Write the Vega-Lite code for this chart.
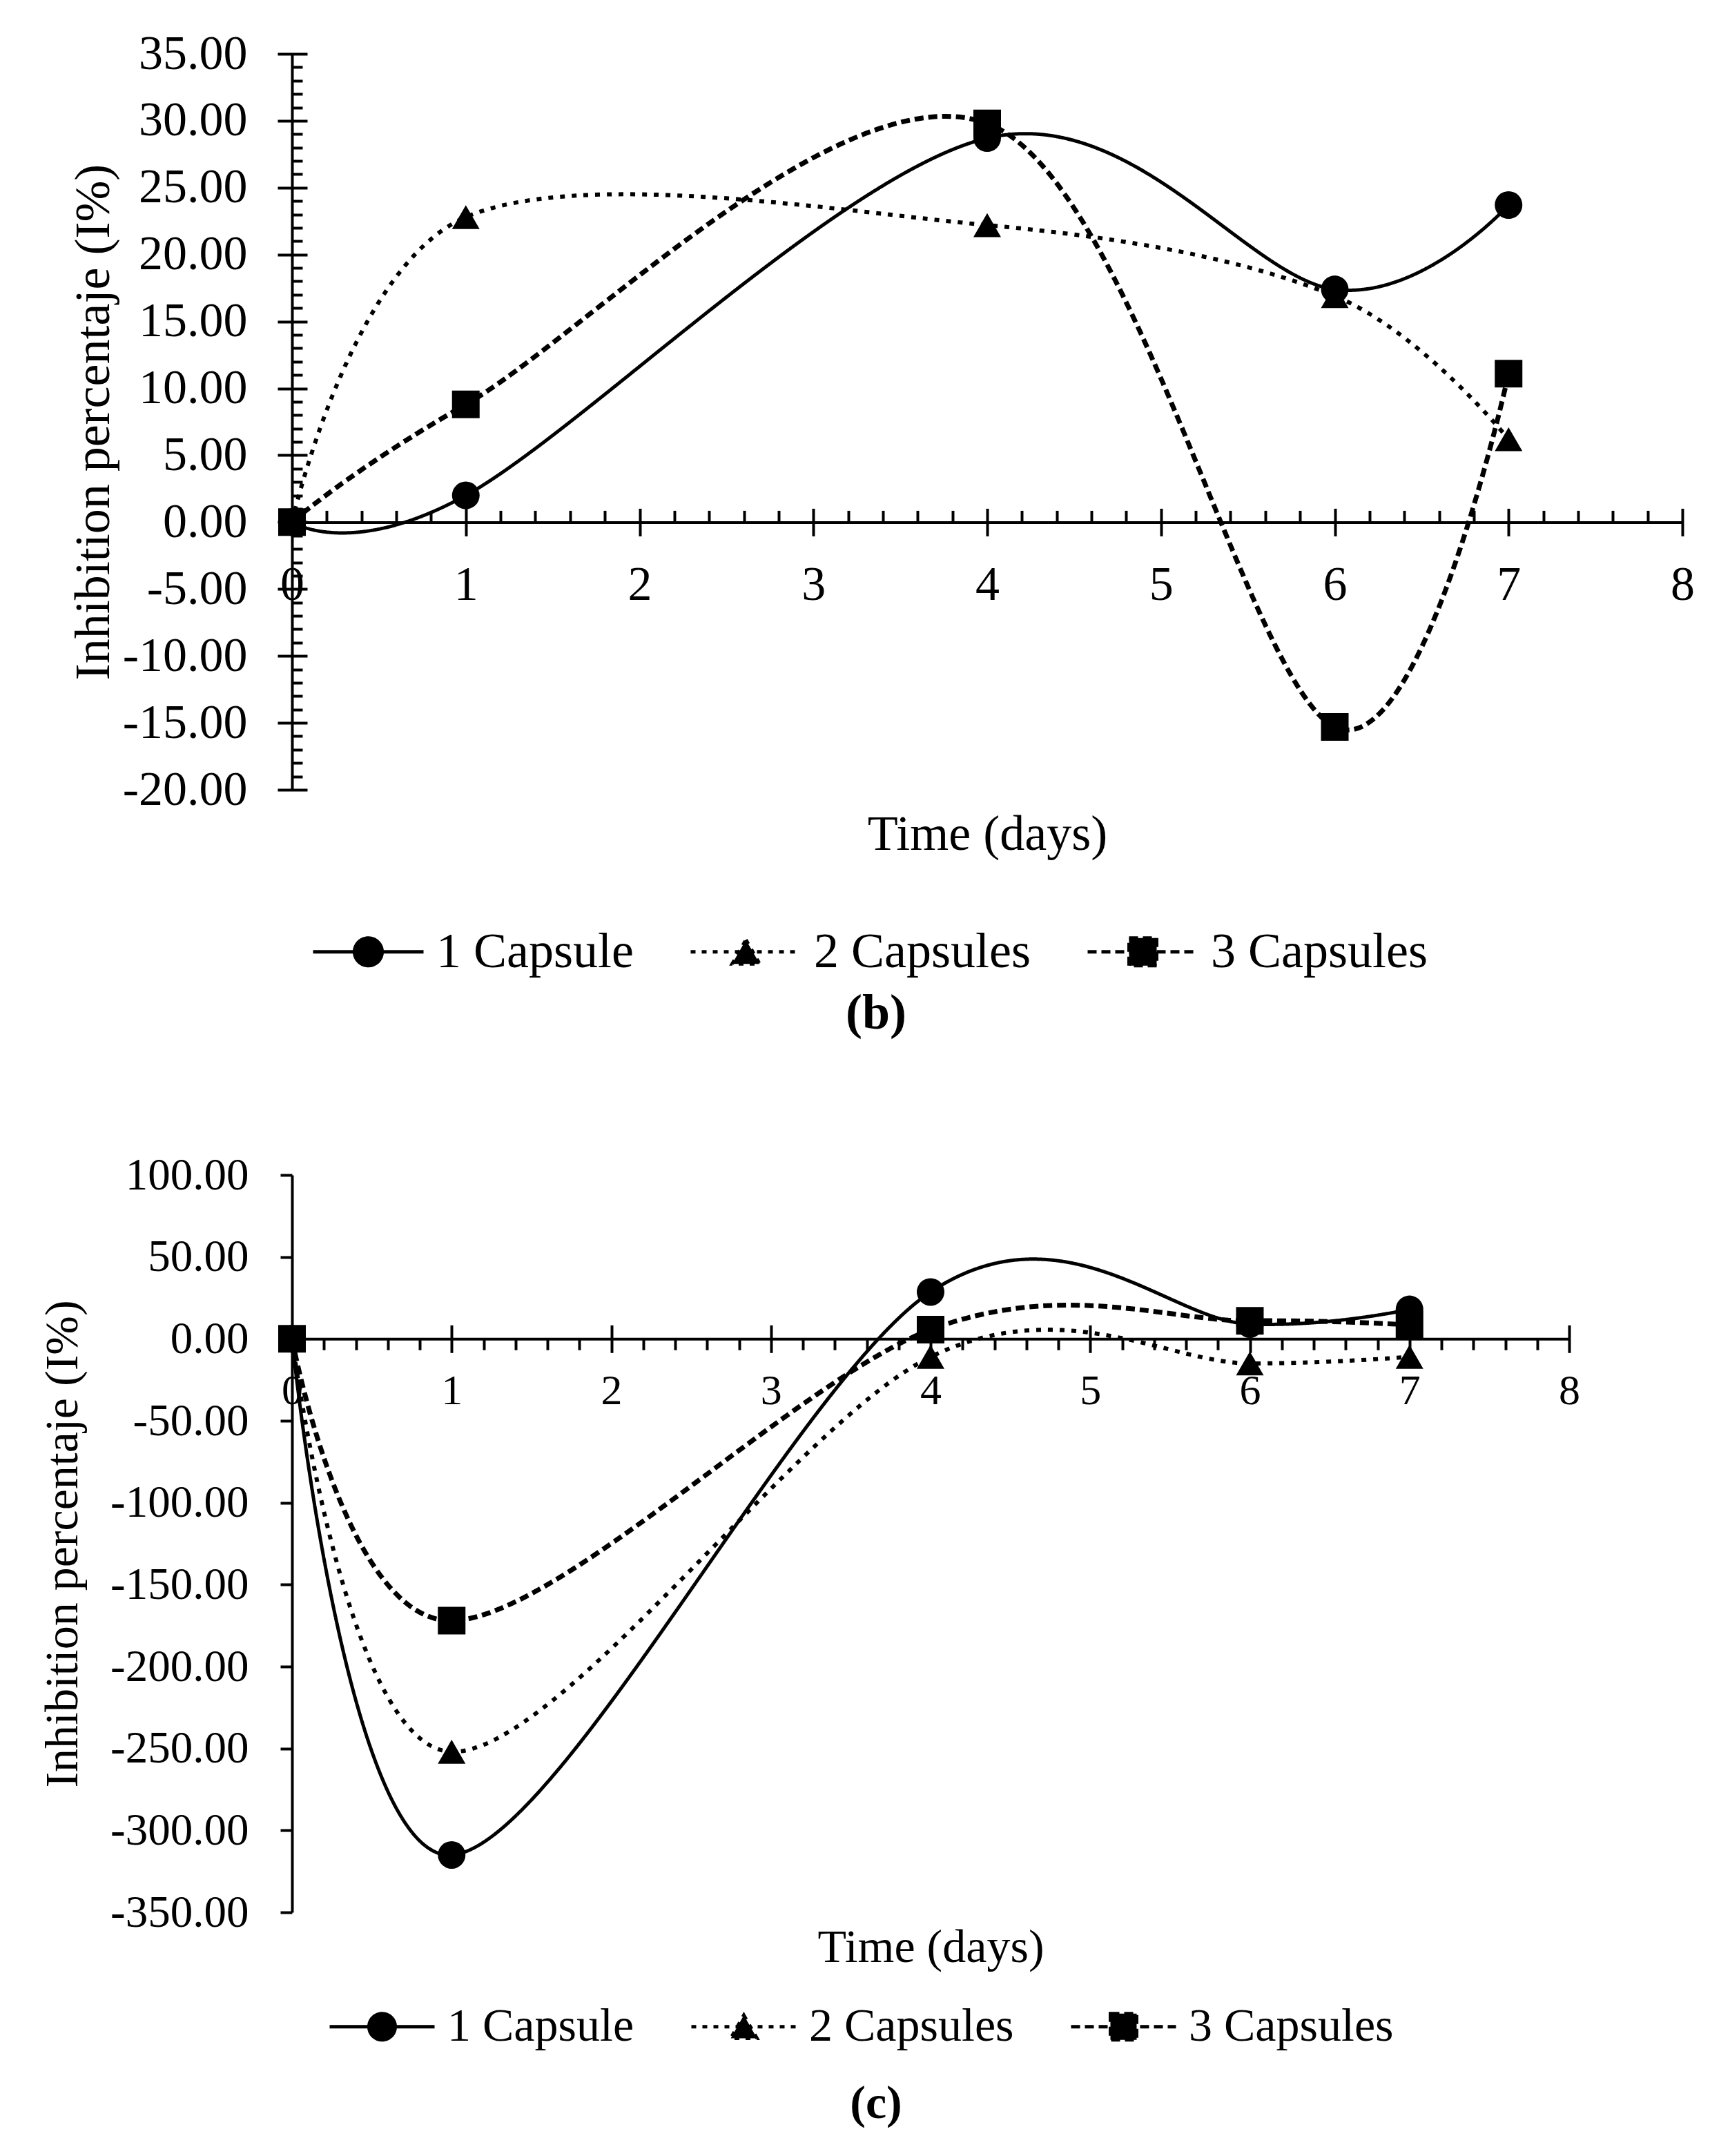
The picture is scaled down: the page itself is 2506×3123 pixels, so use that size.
{
  "$schema": "https://vega.github.io/schema/vega-lite/v6.json",
  "background": "white",
  "padding": {"left": 56, "top": 43, "right": 20, "bottom": 10},
  "config": {
    "font": "Liberation Serif",
    "view": {"stroke": null},
    "axis": {
      "grid": false,
      "domainColor": "black",
      "domainWidth": 4,
      "tickColor": "black",
      "tickWidth": 4,
      "labelColor": "black",
      "titleColor": "black",
      "labelFont": "Liberation Serif",
      "titleFont": "Liberation Serif",
      "titleFontWeight": "normal",
      "labelFlush": false,
      "labelOverlap": false,
      "labelBound": false,
      "labelLimit": 0
    },
    "legend": {"labelFont": "Liberation Serif", "labelColor": "black"}
  },
  "datasets": {
    "b": [
      {"day": 0, "value": 0, "series": "1 Capsule"},
      {"day": 1, "value": 2.0, "series": "1 Capsule"},
      {"day": 4, "value": 28.7, "series": "1 Capsule"},
      {"day": 6, "value": 17.4, "series": "1 Capsule"},
      {"day": 7, "value": 23.7, "series": "1 Capsule"},
      {"day": 0, "value": 0, "series": "2 Capsules"},
      {"day": 1, "value": 22.8, "series": "2 Capsules"},
      {"day": 4, "value": 22.2, "series": "2 Capsules"},
      {"day": 6, "value": 16.9, "series": "2 Capsules"},
      {"day": 7, "value": 6.2, "series": "2 Capsules"},
      {"day": 0, "value": 0, "series": "3 Capsules"},
      {"day": 1, "value": 8.8, "series": "3 Capsules"},
      {"day": 4, "value": 29.8, "series": "3 Capsules"},
      {"day": 6, "value": -15.3, "series": "3 Capsules"},
      {"day": 7, "value": 11.1, "series": "3 Capsules"}
    ],
    "c": [
      {"day": 0, "value": 0, "series": "1 Capsule"},
      {"day": 1, "value": -315, "series": "1 Capsule"},
      {"day": 4, "value": 28.6, "series": "1 Capsule"},
      {"day": 6, "value": 9, "series": "1 Capsule"},
      {"day": 7, "value": 18, "series": "1 Capsule"},
      {"day": 0, "value": 0, "series": "2 Capsules"},
      {"day": 1, "value": -252, "series": "2 Capsules"},
      {"day": 4, "value": -11, "series": "2 Capsules"},
      {"day": 6, "value": -15, "series": "2 Capsules"},
      {"day": 7, "value": -11, "series": "2 Capsules"},
      {"day": 0, "value": 0, "series": "3 Capsules"},
      {"day": 1, "value": -172, "series": "3 Capsules"},
      {"day": 4, "value": 5.6, "series": "3 Capsules"},
      {"day": 6, "value": 11, "series": "3 Capsules"},
      {"day": 7, "value": 8.5, "series": "3 Capsules"}
    ]
  },
  "spacing": 166,
  "vconcat": [
    {
      "width": 2014,
      "height": 1066,
      "data": {"name": "b"},
      "title": {
        "text": "(b)",
        "orient": "bottom",
        "frame": "group",
        "anchor": "middle",
        "dx": -161,
        "offset": 18,
        "fontSize": 72,
        "fontWeight": "bold",
        "font": "Liberation Serif",
        "color": "black"
      },
      "encoding": {
        "x": {
          "field": "day",
          "type": "quantitative",
          "scale": {"domain": [0, 8], "nice": false, "zero": false},
          "axis": {
            "offset": -387.6,
            "values": [0,0.2,0.4,0.6,0.8,1,1.2,1.4,1.6,1.8,2,2.2,2.4,2.6,2.8,3,3.2,3.4,3.6,3.8,4,4.2,4.4,4.6,4.8,5,5.2,5.4,5.6,5.8,6,6.2,6.4,6.6,6.8,7,7.2,7.4,7.6,7.8,8],
            "labelExpr": "abs(datum.value - round(datum.value)) < 0.001 ? '' + round(datum.value) : ''",
            "labelFontSize": 70,
            "tickSize": 20,
            "labelPadding": 37,
            "title": "Time (days)",
            "titleFontSize": 72,
            "titleY": 452,
            "titleBaseline": "middle",
            "encoding": {
              "ticks": {
                "y": {"value": {"expr": "abs(datum.value - round(datum.value)) < 0.001 ? 20 : 0"}},
                "y2": {"value": {"expr": "abs(datum.value - round(datum.value)) < 0.001 ? -20 : -17"}}
              }
            }
          }
        },
        "y": {
          "field": "value",
          "type": "quantitative",
          "scale": {"domain": [-20, 35], "nice": false, "zero": false},
          "axis": {
            "values": [-20,-19,-18,-17,-16,-15,-14,-13,-12,-11,-10,-9,-8,-7,-6,-5,-4,-3,-2,-1,0,1,2,3,4,5,6,7,8,9,10,11,12,13,14,15,16,17,18,19,20,21,22,23,24,25,26,27,28,29,30,31,32,33,34,35],
            "labelExpr": "datum.value % 5 === 0 ? (datum.value < 0 ? '-' : '') + format(abs(datum.value), '.2f') : ''",
            "labelFontSize": 70,
            "tickSize": 21,
            "labelPadding": 44,
            "title": "Inhibition percentaje (I%)",
            "titleFontSize": 72,
            "titleX": -288,
            "titleBaseline": "middle",
            "encoding": {
              "ticks": {
                "x": {"value": {"expr": "datum.value % 5 === 0 ? 22 : 15"}},
                "x2": {"value": {"expr": "datum.value % 5 === 0 ? -21 : 0"}}
              }
            }
          }
        }
      },
      "layer": [
        {
          "mark": {"type": "line", "interpolate": "cardinal", "tension": 0, "color": "black"},
          "encoding": {
            "strokeDash": {
              "field": "series",
              "type": "nominal",
              "scale": {"domain": ["1 Capsule", "2 Capsules", "3 Capsules"], "range": [[1, 0], [7, 10], [13, 7]]},
              "legend": null
            },
            "strokeWidth": {
              "field": "series",
              "type": "nominal",
              "scale": {"domain": ["1 Capsule", "2 Capsules", "3 Capsules"], "range": [5, 7, 5]},
              "legend": null
            }
          }
        },
        {
          "mark": {"type": "point", "filled": true, "color": "black", "opacity": 1, "size": 1600},
          "encoding": {
            "shape": {
              "field": "series",
              "type": "nominal",
              "scale": {"domain": ["1 Capsule", "2 Capsules", "3 Capsules"], "range": ["circle", "triangle-up", "square"]},
              "legend": null
            }
          }
        },
        {
          "transform": [{"filter": "false"}],
          "mark": {"type": "point", "filled": true, "color": "black", "opacity": 1},
          "encoding": {
            "shape": {
              "field": "series",
              "type": "nominal",
              "scale": {
                "domain": ["1 Capsule", "2 Capsules", "3 Capsules"],
                "range": [
                  "M-1,0H1M0.25,0A0.25,0.25,0,1,1,-0.25,0A0.25,0.25,0,1,1,0.25,0Z",
                  "M-1,0H1M0,-0.22L0.25,0.22L-0.25,0.22Z",
                  "M-1,0H1M-0.25,-0.25H0.25V0.25H-0.25Z"
                ]
              },
              "legend": {
                "orient": "none",
                "legendX": 28,
                "legendY": 1218,
                "direction": "horizontal",
                "title": null,
                "symbolSize": 25600,
                "symbolStrokeWidth": 5,
                "symbolStrokeColor": "black",
                "symbolFillColor": "black",
                "symbolOpacity": 1,
                "labelFontSize": 72,
                "labelOffset": 16,
                "columnPadding": 72,
                "labelLimit": 0,
                "encoding": {
                  "symbols": {
                    "stroke": {"value": "black"},
                    "fill": {"value": "black"},
                    "strokeWidth": {"value": 5},
                    "opacity": {"value": 1},
                    "strokeDash": {"value": {"expr": "datum.value === '1 Capsule' ? [1, 0] : datum.value === '2 Capsules' ? [7, 9] : [13, 7]"}}
                  }
                }
              }
            }
          }
        }
      ],
      "resolve": {"scale": {"shape": "independent"}}
    },
    {
      "width": 1850,
      "height": 1068,
      "data": {"name": "c"},
      "title": {
        "text": "(c)",
        "orient": "bottom",
        "frame": "group",
        "anchor": "middle",
        "dx": -79,
        "offset": 44,
        "fontSize": 68,
        "fontWeight": "bold",
        "font": "Liberation Serif",
        "color": "black"
      },
      "encoding": {
        "x": {
          "field": "day",
          "type": "quantitative",
          "scale": {"domain": [0, 8], "nice": false, "zero": false},
          "axis": {
            "offset": -830.7,
            "values": [0,0.2,0.4,0.6,0.8,1,1.2,1.4,1.6,1.8,2,2.2,2.4,2.6,2.8,3,3.2,3.4,3.6,3.8,4,4.2,4.4,4.6,4.8,5,5.2,5.4,5.6,5.8,6,6.2,6.4,6.6,6.8,7,7.2,7.4,7.6,7.8,8],
            "labelExpr": "abs(datum.value - round(datum.value)) < 0.001 ? '' + round(datum.value) : ''",
            "labelFontSize": 62,
            "tickSize": 20,
            "labelPadding": 25,
            "title": "Time (days)",
            "titleFontSize": 68,
            "titleY": 882,
            "titleBaseline": "middle",
            "encoding": {
              "ticks": {
                "y": {"value": {"expr": "abs(datum.value - round(datum.value)) < 0.001 ? -20 : 0"}},
                "y2": {"value": {"expr": "abs(datum.value - round(datum.value)) < 0.001 ? 20 : 16"}}
              }
            }
          }
        },
        "y": {
          "field": "value",
          "type": "quantitative",
          "scale": {"domain": [-350, 100], "nice": false, "zero": false},
          "axis": {
            "values": [-350,-300,-250,-200,-150,-100,-50,0,50,100],
            "labelExpr": "(datum.value < 0 ? '-' : '') + format(abs(datum.value), '.2f')",
            "labelFontSize": 65,
            "tickSize": 17,
            "labelPadding": 46,
            "title": "Inhibition percentaje (I%)",
            "titleFontSize": 68,
            "titleX": -332,
            "titleBaseline": "middle"
          }
        }
      },
      "layer": [
        {
          "mark": {"type": "line", "interpolate": "cardinal", "tension": 0, "color": "black"},
          "encoding": {
            "strokeDash": {
              "field": "series",
              "type": "nominal",
              "scale": {"domain": ["1 Capsule", "2 Capsules", "3 Capsules"], "range": [[1, 0], [7, 10], [13, 7]]},
              "legend": null
            },
            "strokeWidth": {
              "field": "series",
              "type": "nominal",
              "scale": {"domain": ["1 Capsule", "2 Capsules", "3 Capsules"], "range": [5, 7, 5]},
              "legend": null
            }
          }
        },
        {
          "mark": {"type": "point", "filled": true, "color": "black", "opacity": 1, "size": 1600},
          "encoding": {
            "shape": {
              "field": "series",
              "type": "nominal",
              "scale": {"domain": ["1 Capsule", "2 Capsules", "3 Capsules"], "range": ["circle", "triangle-up", "square"]},
              "legend": null
            }
          }
        },
        {
          "transform": [{"filter": "false"}],
          "mark": {"type": "point", "filled": true, "color": "black", "opacity": 1},
          "encoding": {
            "shape": {
              "field": "series",
              "type": "nominal",
              "scale": {
                "domain": ["1 Capsule", "2 Capsules", "3 Capsules"],
                "range": [
                  "M-1,0H1M0.25,0A0.25,0.25,0,1,1,-0.25,0A0.25,0.25,0,1,1,0.25,0Z",
                  "M-1,0H1M0,-0.22L0.25,0.22L-0.25,0.22Z",
                  "M-1,0H1M-0.25,-0.25H0.25V0.25H-0.25Z"
                ]
              },
              "legend": {
                "orient": "none",
                "legendX": 52,
                "legendY": 1155,
                "direction": "horizontal",
                "title": null,
                "symbolSize": 23104,
                "symbolStrokeWidth": 5,
                "symbolStrokeColor": "black",
                "symbolFillColor": "black",
                "symbolOpacity": 1,
                "labelFontSize": 68,
                "labelOffset": 16,
                "columnPadding": 72,
                "labelLimit": 0,
                "encoding": {
                  "symbols": {
                    "stroke": {"value": "black"},
                    "fill": {"value": "black"},
                    "strokeWidth": {"value": 5},
                    "opacity": {"value": 1},
                    "strokeDash": {"value": {"expr": "datum.value === '1 Capsule' ? [1, 0] : datum.value === '2 Capsules' ? [7, 9] : [13, 7]"}}
                  }
                }
              }
            }
          }
        }
      ],
      "resolve": {"scale": {"shape": "independent"}}
    }
  ]
}
